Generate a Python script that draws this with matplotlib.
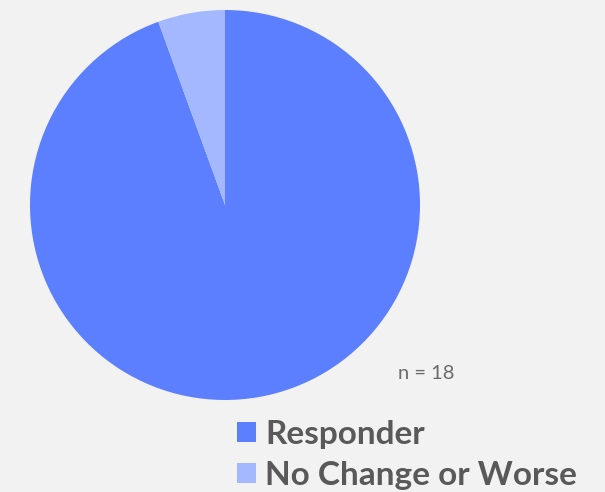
import matplotlib.pyplot as plt

# resultado por paciente
etiquetas = ["Responder", "No Change or Worse"]
conteos = [17, 1]
colores = ["#5b7fff", "#a3b8ff"]
n_total = 18

fondo = "#f2f2f2"
fig = plt.figure(figsize=(6.05, 4.92), dpi=100, facecolor=fondo)

# eje cuadrado para el pastel (en pixeles: 30..420 x, 10..400 y)
ax = fig.add_axes([30 / 605, 92 / 492, 390 / 605, 390 / 492])
ax.set_facecolor(fondo)
cunas, _ = ax.pie(conteos, colors=colores, startangle=90, counterclock=False,
                  radius=1, wedgeprops=dict(linewidth=0))
ax.set_xlim(-1, 1)
ax.set_ylim(-1, 1)
ax.set_aspect("equal")
ax.axis("off")

fig.text(398 / 605, 1 - 379 / 492, "n = %d" % n_total, fontsize=14.5,
         family="Lato", color="#6b6b6b")

leg = fig.legend(cunas, etiquetas, loc="upper left",
                 bbox_to_anchor=(237 / 605, 1 - 420 / 492), frameon=False,
                 prop=dict(family="Lato", weight="bold", size=24),
                 handlelength=0.56, handleheight=0.56, handletextpad=0.28,
                 labelspacing=0.36, borderpad=0, borderaxespad=0)
for t in leg.get_texts():
    t.set_color("#595959")

fig.savefig("out.png", dpi=100, facecolor=fondo)
